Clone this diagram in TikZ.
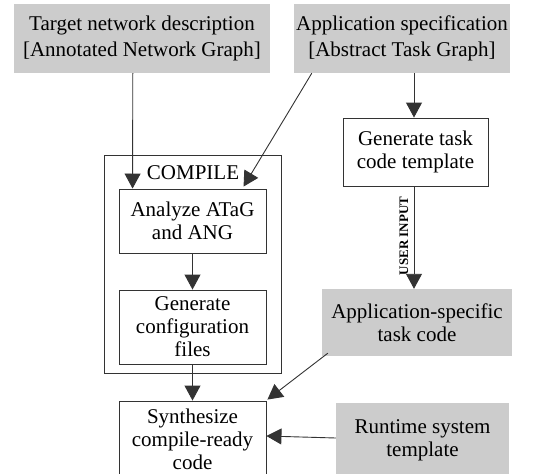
\documentclass[tikz,border=0pt]{standalone}
\usepackage{fontspec}
\setmainfont{Liberation Serif}
\usetikzlibrary{arrows.meta,calc}
\begin{document}
\begin{tikzpicture}[x=1pt,y=-1pt,
  every node/.style={inner sep=0pt, align=center, font=\fontsize{21}{23}\selectfont},
  graybox/.style={fill=gray!40, draw=none},
  whitebox/.style={draw=black!80, line width=0.9pt, fill=white},
  conn/.style={draw=black!80, line width=0.9pt, -{Triangle[length=15pt,width=16pt]}}]
\useasboundingbox (0,0) rectangle (533,474);
\node[graybox, minimum width=256pt, minimum height=69pt, font=\fontsize{21}{26}\selectfont] (tnd) at (142,38.5) {Target network description\\{}[Annotated Network Graph]};
\node[graybox, minimum width=216pt, minimum height=69pt, font=\fontsize{21}{26}\selectfont] (aps) at (402,38.5) {Application specification\\{}[Abstract Task Graph]};
\node[whitebox, minimum width=145pt, minimum height=68pt] (gtc) at (415.5,152) {Generate task\\code template};
\node[whitebox, minimum width=177pt, minimum height=218pt] (cmp) at (192.5,264) {};
\node (cmplabel) at (193,173) {COMPILE};
\node[whitebox, minimum width=147pt, minimum height=64pt] (ana) at (192.5,221) {Analyze ATaG\\and ANG};
\node[whitebox, minimum width=147pt, minimum height=74pt] (gcf) at (192.5,327) {Generate\\configuration\\files};
\node[whitebox, minimum width=147pt, minimum height=76pt] (syn) at (192.5,439) {Synthesize\\compile-ready\\code};
\node[graybox, minimum width=190pt, minimum height=67pt] (ast) at (417,322.5) {Application-specific\\task code};
\node[graybox, minimum width=173pt, minimum height=74pt] (rst) at (422.5,440) {Runtime system\\template};
\draw[conn] ($(tnd.south west)+(119,0)$) -- ($(ana.north west)+(14,0)$);
\draw[conn] ($(aps.south west)+(18,0)$) -- ($(ana.north west)+(125,-2)$);
\draw[conn] ($(aps.south)+(12,0)$) -- ($(gtc.north)+(-1.5,0)$);
\draw[conn] ($(gtc.south)+(-1.5,0)$) -- ($(ast.north)+(-3,0)$);
\node[font=\fontsize{13}{13}\bfseries\selectfont, rotate=90] (ui) at (404,236) {USER INPUT};
\draw[conn] (ana.south) -- (gcf.north);
\draw[conn] (gcf.south) -- (syn.north);
\draw[conn] ($(ast.south west)+(6,-3)$) -- ($(syn.north east)+(1,-1)$);
\draw[conn] ($(rst.west)+(0,-2)$) -- ($(syn.east)+(0,-3)$);
\end{tikzpicture}
\end{document}
